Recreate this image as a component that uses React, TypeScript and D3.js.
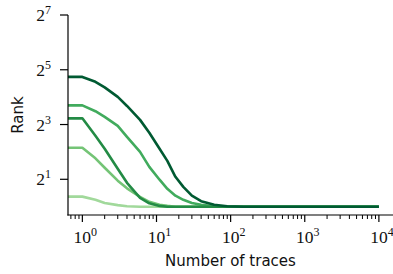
import * as d3 from 'd3'

// number of traces (x) shared by all curves
const TRACES = [0.5, 1, 1.5, 2, 3, 4, 6, 8, 11, 14, 18, 23, 30, 40, 60, 90, 150, 10000]

// mean rank per curve
const RANK_LIGHTEST = [1.29, 1.29, 1.19, 1.1, 1.04, 1.01, 1, 1, 1, 1, 1, 1, 1, 1, 1, 1, 1, 1]
const RANK_LIGHT = [4.44, 4.44, 3.4, 2.68, 1.93, 1.59, 1.28, 1.13, 1.05, 1.02, 1, 1, 1, 1, 1, 1, 1, 1]
const RANK_MEDIUM = [13.0, 13.0, 11.2, 9.72, 7.74, 5.86, 4.01, 2.74, 1.98, 1.57, 1.32, 1.19, 1.1, 1.05, 1.01, 1, 1, 1]
const RANK_DARK = [9.36, 9.36, 6.01, 4.33, 2.61, 1.83, 1.25, 1.09, 1.02, 1, 1, 1, 1, 1, 1, 1, 1, 1]
const RANK_DARKEST = [26.7, 26.7, 23.6, 20.5, 16.1, 12.8, 9.0, 6.49, 4.33, 3.19, 2.13, 1.65, 1.32, 1.15, 1.05, 1.01, 1, 1]

const SERIES = [
  { values: RANK_LIGHTEST, color: '#a1d99b' },
  { values: RANK_LIGHT, color: '#74c476' },
  { values: RANK_MEDIUM, color: '#41ab5d' },
  { values: RANK_DARK, color: '#238b45' },
  { values: RANK_DARKEST, color: '#005a32' },
]

const X_TICKS = [0, 1, 2, 3, 4] // powers of ten
const Y_TICKS = [1, 3, 5, 7] // powers of two

const W = 393
const H = 274
const left = 68
const right = 393
const top = 15
const bottom = 215

const serif = '"Liberation Serif", "DejaVu Serif", serif'
const sans = '"DejaVu Sans", sans-serif'

export default function App() {
  const x = d3.scaleLog().domain([0.64, 15500]).range([left, right])
  const y = d3.scaleLog().base(2).domain([0.81, 128]).range([bottom, top])

  const gen = d3
    .line<number>()
    .x((_, i) => x(TRACES[i]))
    .y((v) => y(v))

  const minor: number[] = []
  for (let k = -1; k <= 4; k++) {
    for (let m = 2; m <= 9; m++) {
      const v = m * Math.pow(10, k)
      if (v >= 0.64 && v <= 15500) minor.push(v)
    }
  }

  return (
    <svg
      width={W}
      height={H}
      style={{ position: 'absolute', left: 0, top: 0, background: '#fff' }}
    >
      <defs>
        <clipPath id="plot">
          <rect x={left} y={0} width={right - left} height={bottom} />
        </clipPath>
      </defs>

      <g clipPath="url(#plot)" fill="none" strokeWidth={2.6} strokeLinejoin="round">
        {SERIES.map((s, i) => (
          <path key={i} d={gen(s.values) ?? ''} stroke={s.color} />
        ))}
      </g>

      {/* axes */}
      <g stroke="#000" strokeWidth={1.2}>
        <line x1={left} x2={left} y1={top} y2={bottom + 0.6} />
        <line x1={left - 0.6} x2={right} y1={bottom} y2={bottom} />
        {X_TICKS.map((p) => (
          <line key={p} x1={x(10 ** p)} x2={x(10 ** p)} y1={bottom} y2={bottom + 7} />
        ))}
        {minor.map((v) => (
          <line key={v} x1={x(v)} x2={x(v)} y1={bottom} y2={bottom + 4} strokeWidth={1} />
        ))}
        {Y_TICKS.map((p) => (
          <line key={p} x1={left - 8} x2={left} y1={y(2 ** p)} y2={y(2 ** p)} />
        ))}
      </g>

      <g fontFamily={serif} fill="#111">
        {X_TICKS.map((p) => (
          <text key={p} x={x(10 ** p) + 3} y={243} textAnchor="middle" fontSize={17.5}>
            10
            <tspan dy={-7} fontSize={12}>
              {p}
            </tspan>
          </text>
        ))}
        {Y_TICKS.map((p) => (
          <text key={p} x={51} y={y(2 ** p) + 6} textAnchor="end" fontSize={17.5}>
            2
            <tspan dy={-7} fontSize={12}>
              {p}
            </tspan>
          </text>
        ))}
      </g>

      <g fontFamily={sans} fill="#111" fontSize={15}>
        <text x={(left + right) / 2} y={266} textAnchor="middle">
          Number of traces
        </text>
        <text transform={`translate(23,${(top + bottom) / 2}) rotate(-90)`} textAnchor="middle">
          Rank
        </text>
      </g>
    </svg>
  )
}
